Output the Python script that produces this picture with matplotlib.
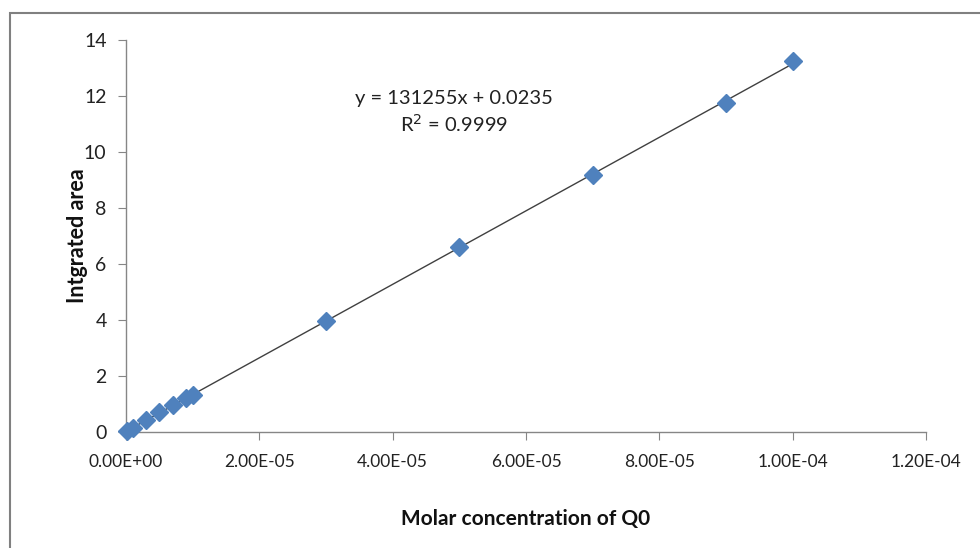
import numpy as np
import matplotlib
matplotlib.use("Agg")
import matplotlib.pyplot as plt
from matplotlib.patches import Rectangle

# calibration data
conc = [2e-7, 1e-6, 3e-6, 5e-6, 7e-6, 9e-6, 1e-5, 3e-5, 5e-5, 7e-5, 9e-5, 1e-4]
area = [0.05, 0.15, 0.42, 0.70, 0.95, 1.20, 1.32, 3.96, 6.60, 9.18, 11.75, 13.25]

slope = 131255
intercept = 0.0235
r2 = 0.9999

x_ticks = [0, 2e-5, 4e-5, 6e-5, 8e-5, 1e-4, 1.2e-4]
x_tick_labels = ["0.00E+00", "2.00E-05", "4.00E-05", "6.00E-05", "8.00E-05", "1.00E-04", "1.20E-04"]
y_ticks = [0, 2, 4, 6, 8, 10, 12, 14]

plt.rcParams["font.family"] = ["Lato", "DejaVu Sans"]

fig = plt.figure(figsize=(9.8, 5.48), dpi=100)
ax = fig.add_axes([126 / 980, 1 - 432 / 548, 800 / 980, 392 / 548])

# outer chart border (runs off the right and bottom edges)
fig.patches.append(Rectangle((10 / 980, -0.05), 1.2, 1 - 13 / 548 + 0.05,
                             transform=fig.transFigure, fill=False,
                             edgecolor="#808080", linewidth=1.5))

# trendline
xs = np.array([0, max(conc)])
ax.plot(xs, slope * xs + intercept, color="#404040", linewidth=1.0, zorder=2)
ax.plot(conc, area, linestyle="none", marker="D", markersize=9,
        color="#4F81BD", markeredgecolor="#4F81BD", zorder=3, clip_on=False)

ax.set_xlim(0, 1.2e-4)
ax.set_ylim(0, 14)
ax.set_xticks(x_ticks)
ax.set_xticklabels(x_tick_labels)
ax.set_yticks(y_ticks)

for side in ["top", "right"]:
    ax.spines[side].set_visible(False)
for side in ["left", "bottom"]:
    ax.spines[side].set_color("#868686")
    ax.spines[side].set_linewidth(1.0)

ax.tick_params(axis="both", direction="out", length=6, color="#868686",
               labelcolor="#222222")
ax.tick_params(axis="x", pad=10, labelsize=12.5)
ax.tick_params(axis="y", pad=8, labelsize=14)

ax.set_xlabel("Molar concentration of Q0", fontsize=15, fontweight="bold",
              color="#111111", labelpad=28)
ax.set_ylabel("Intgrated area", fontsize=15.5, fontweight="bold",
              color="#111111", labelpad=-3)

ax.text(0.41, 0.815, f"y = {slope}x + {intercept}\nR$^2$ = {r2}",
        transform=ax.transAxes, ha="center", va="center", fontsize=14.5,
        color="#222222", linespacing=1.3)

fig.savefig("out.png", dpi=100, facecolor="white")
